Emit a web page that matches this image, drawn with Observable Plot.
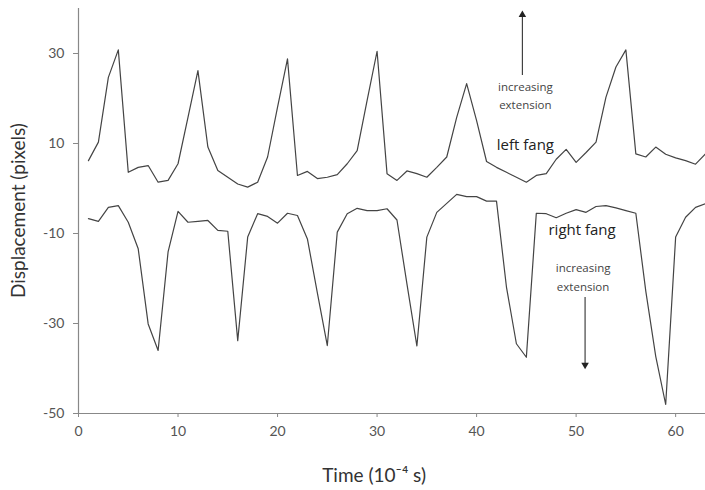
<!DOCTYPE html>
<html><head><meta charset="utf-8">
<script src="https://cdn.jsdelivr.net/npm/d3@7"></script>
<script src="https://cdn.jsdelivr.net/npm/@observablehq/plot@0.6"></script>
<style>body{margin:0;background:#fff}</style>
</head><body><div id="chart"></div>
<script>
const time = [1,2,3,4,5,6,7,8,9,10,11,12,13,14,15,16,17,18,19,20,21,22,23,24,25,26,27,28,29,30,31,32,33,34,35,36,37,38,39,40,41,42,43,44,45,46,47,48,49,50,51,52,53,54,55,56,57,58,59,60,61,62,63];
const leftFang = [6.2,10.3,24.7,30.8,3.6,4.7,5.1,1.4,1.8,5.5,
  15.8,26.2,9.2,4.0,2.5,1.0,0.3,1.4,7.0,18.1,
  28.8,2.9,3.8,2.2,2.5,3.1,5.5,8.4,19.6,30.5,
  3.3,1.8,3.9,3.3,2.5,4.7,7.0,15.8,23.3,15.1,
  6.0,4.7,3.6,2.5,1.4,2.9,3.3,6.5,8.7,5.8,
  8.0,10.3,20.3,27.0,30.8,7.7,7.0,9.2,7.6,6.8,
  6.2,5.4,7.7];
const rightFang = [-6.7,-7.3,-4.2,-3.8,-7.5,-13.4,-30.1,-36.0,-14.1,-5.1,
  -7.5,-7.3,-7.1,-9.3,-9.5,-33.8,-10.8,-5.6,-6.2,-7.7,
  -5.5,-6.0,-11.2,-23.2,-34.9,-9.7,-5.6,-4.4,-4.9,-4.9,
  -4.5,-7.0,-21.2,-35.0,-10.8,-5.3,-3.3,-1.3,-1.8,-1.8,
  -2.8,-2.8,-21.9,-34.5,-37.5,-5.5,-5.6,-6.5,-5.5,-4.7,
  -5.3,-4.0,-3.8,-4.3,-4.9,-5.5,-22.8,-37.3,-48.0,-10.8,
  -6.4,-4.2,-3.4];
const xTicks = [0,10,20,30,40,50,60];
const yTicks = [-50,-30,-10,10,30];
const xLabel = "Time (10\u207B\u2074 s)";
const yLabel = "Displacement (pixels)";
const seriesLabels = [
  {text:"left fang", x:44.9, y:9.6},
  {text:"right fang", x:50.6, y:-9.3}
];
const noteLabels = [
  {text:"increasing", x:44.9, y:22.4},
  {text:"extension", x:44.9, y:18.4},
  {text:"increasing", x:50.7, y:-17.8},
  {text:"extension", x:50.7, y:-22.0}
];
const arrows = [
  {x:44.6, y1:25.1, y2:38.6, dir:0},
  {x:50.9, y1:-24.2, y2:-39.2, dir:180}
];

const rows = time.flatMap((t, i) => [
  {t, v: leftFang[i], s: "left"},
  {t, v: rightFang[i], s: "right"}
]);

const lineColor = "#444";
const plot = Plot.plot({
  width: 705, height: 490,
  marginLeft: 78, marginRight: 0, marginTop: 8, marginBottom: 77,
  style: {fontFamily: "Lato, sans-serif", background: "#fff"},
  x: {domain: [0, 63]},
  y: {domain: [-50, 40]},
  marks: [
    Plot.axisX({ticks: xTicks, tickFormat: d => String(d), tickSize: 4, tickPadding: 9, fontSize: 14, label: null, stroke: "#888", fill: "#555"}),
    Plot.axisY({ticks: yTicks, tickFormat: d => String(d), tickSize: 5, tickPadding: 9, fontSize: 14, label: null, stroke: "#888", fill: "#555"}),
    Plot.ruleY([-50], {stroke: "#888", strokeWidth: 1.2}),
    Plot.ruleX([0], {stroke: "#888", strokeWidth: 1.2}),
    Plot.line(rows, {x: "t", y: "v", z: "s", stroke: lineColor, strokeWidth: 1.2}),
    Plot.ruleX(arrows, {x: "x", y1: "y1", y2: "y2", stroke: "#333", strokeWidth: 1.1}),
    Plot.dot(arrows, {x: "x", y: "y2", symbol: "triangle2", r: 3.6, fill: "#222", stroke: null, rotate: "dir"}),
    Plot.text(seriesLabels, {x: "x", y: "y", text: "text", fontSize: 15, fill: "#222", fontFamily: "Open Sans, sans-serif"}),
    Plot.text(noteLabels, {x: "x", y: "y", text: "text", fontSize: 11.5, fill: "#444", fontFamily: "Open Sans, sans-serif"}),
    Plot.text([xLabel], {x: 29.7, y: -63.8, text: d => d, fontSize: 19, fill: "#333"}),
    Plot.text([yLabel], {x: -6.03, y: -4.9, text: d => d, fontSize: 19, fill: "#333", rotate: -90})
  ]
});
document.getElementById("chart").appendChild(plot);
</script>
</body></html>
